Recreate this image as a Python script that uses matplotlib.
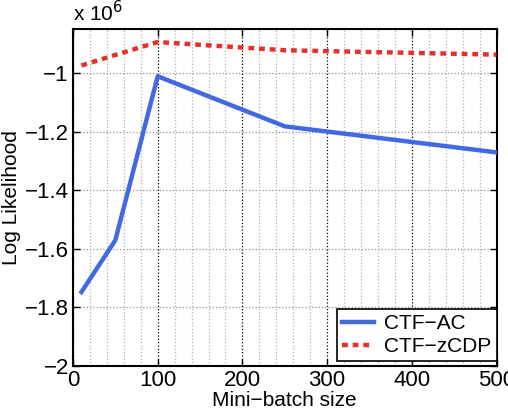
import matplotlib.pyplot as plt
from matplotlib.ticker import MultipleLocator, FuncFormatter

plt.rcParams['font.family'] = ['Liberation Sans', 'DejaVu Sans']

# values in units of 1e6 (axis shows "x 10^6")
batch_ac = [10, 50, 100, 250, 500]
ll_ac = [-1.747, -1.570, -1.010, -1.181, -1.270]
batch_zcdp = [10, 50, 100, 250, 500]
ll_zcdp = [-0.973, -0.937, -0.893, -0.921, -0.936]
xticks = [0, 100, 200, 300, 400, 500]
yticks = [-2, -1.8, -1.6, -1.4, -1.2, -1]

fig = plt.figure(figsize=(5.08, 4.15), dpi=100)
ax = fig.add_axes([0.1437, 0.118, 0.8337, 0.811])

ax.plot(batch_ac, ll_ac, color='#4169e1', lw=3.2, label='CTF\u2212AC', zorder=3)
ax.plot(batch_zcdp, ll_zcdp, color='#e8302a', lw=3.2, dashes=(1.3, 1.1),
        label='CTF\u2212zCDP', zorder=3)

ax.set_xlim(0, 500)
ax.set_ylim(-2, -0.85)
ax.set_xticks(xticks)
ax.set_yticks(yticks)
ax.xaxis.set_minor_locator(MultipleLocator(20))
ax.yaxis.set_major_formatter(FuncFormatter(lambda v, p: ('%g' % v).replace('-', '\u2212')))

ax.grid(which='major', axis='x', color='black', linestyle=':', linewidth=0.9)
ax.grid(which='minor', axis='x', color='#b0b0b0', linestyle=':', linewidth=0.9)
ax.grid(which='major', axis='y', color='#909090', linestyle=':', linewidth=0.9)

ax.tick_params(which='both', direction='in', top=True, right=True, labelsize=16)
ax.tick_params(which='major', length=5, width=1, pad=3)
ax.tick_params(which='minor', length=0)
for s in ax.spines.values():
    s.set_linewidth(1.5)

ax.set_xlabel('Mini\u2212batch size', fontsize=15, labelpad=-0.5)
ax.set_ylabel('Log Likelihood', fontsize=15, labelpad=3)
ax.text(0, 1.012, 'x 10$^6$', transform=ax.transAxes, fontsize=15,
        ha='left', va='bottom')

leg = ax.legend(loc='lower right', bbox_to_anchor=(1.0, 0.014), fontsize=15,
                fancybox=False, framealpha=1, edgecolor='black',
                borderpad=0.25, handlelength=1.5, handletextpad=0.5,
                labelspacing=0.2, borderaxespad=0)
leg.get_frame().set_linewidth(1.2)

fig.savefig('out.png', dpi=100)
